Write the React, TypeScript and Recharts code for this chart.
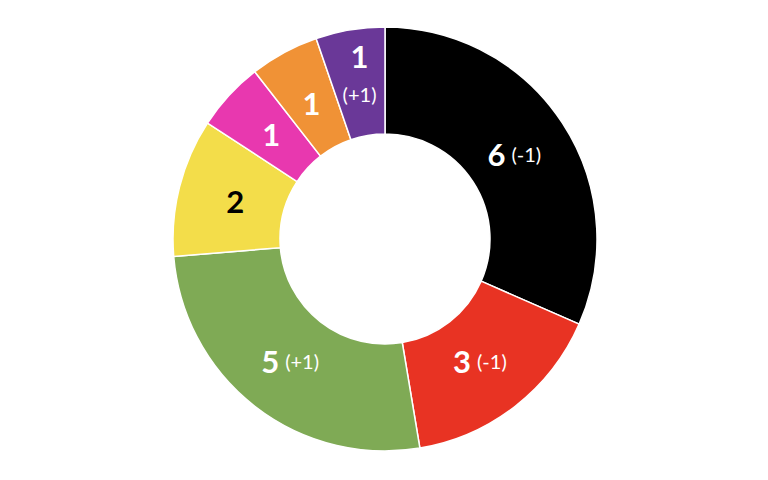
import { PieChart, Pie, Cell } from 'recharts';

const parties = ['Black', 'Red', 'Green', 'Yellow', 'Pink', 'Orange', 'Purple'];
const seats = [6, 3, 5, 2, 1, 1, 1];
const changes = ['(-1)', '(-1)', '(+1)', '', '', '', '(+1)'];
const colors = ['#000000', '#E83323', '#7FAA55', '#F3DD4A', '#E838AF', '#F09236', '#6A3898'];
const labelColors = ['#fff', '#fff', '#fff', '#000', '#fff', '#fff', '#fff'];

const data = parties.map((name, i) => ({ name, value: seats[i], change: changes[i] }));

const RAD = Math.PI / 180;

function renderLabel(props: any) {
  const { cx, cy, midAngle, innerRadius, outerRadius, index } = props;
  const r = (innerRadius + outerRadius) / 2 - 4;
  const x = cx + r * Math.cos(-midAngle * RAD);
  const y = cy + r * Math.sin(-midAngle * RAD);
  const fill = labelColors[index];
  const change = changes[index];
  const font = 'Lato, "Open Sans", sans-serif';
  if (index === parties.length - 1) {
    // narrow slice: value over change
    return (
      <text x={x} y={y} textAnchor="middle" fill={fill} fontFamily={font}>
        <tspan x={x} dy={-19} fontSize={31} fontWeight={700}>{seats[index]}</tspan>
        <tspan x={x} dy={34} fontSize={20}>{change}</tspan>
      </text>
    );
  }
  return (
    <text x={x} y={y} textAnchor="middle" dominantBaseline="central" fill={fill} fontFamily={font}>
      <tspan fontSize={31} fontWeight={700}>{seats[index]}</tspan>
      {change && <tspan fontSize={20} dx={6}>{change}</tspan>}
    </text>
  );
}

export default function App() {
  return (
    <div style={{ position: 'absolute', left: 0, top: 0, width: 768, height: 480, background: '#fff' }}>
      <PieChart width={768} height={480} margin={{ top: 0, right: 0, bottom: 0, left: 0 }}>
        <Pie
          data={data}
          dataKey="value"
          nameKey="name"
          cx={385}
          cy={239}
          innerRadius={105}
          outerRadius={212}
          startAngle={90}
          endAngle={-270}
          stroke="#ffffff"
          strokeWidth={1.5}
          label={renderLabel}
          labelLine={false}
          isAnimationActive={false}
        >
          {data.map((d, i) => (
            <Cell key={d.name} fill={colors[i]} />
          ))}
        </Pie>
      </PieChart>
    </div>
  );
}
